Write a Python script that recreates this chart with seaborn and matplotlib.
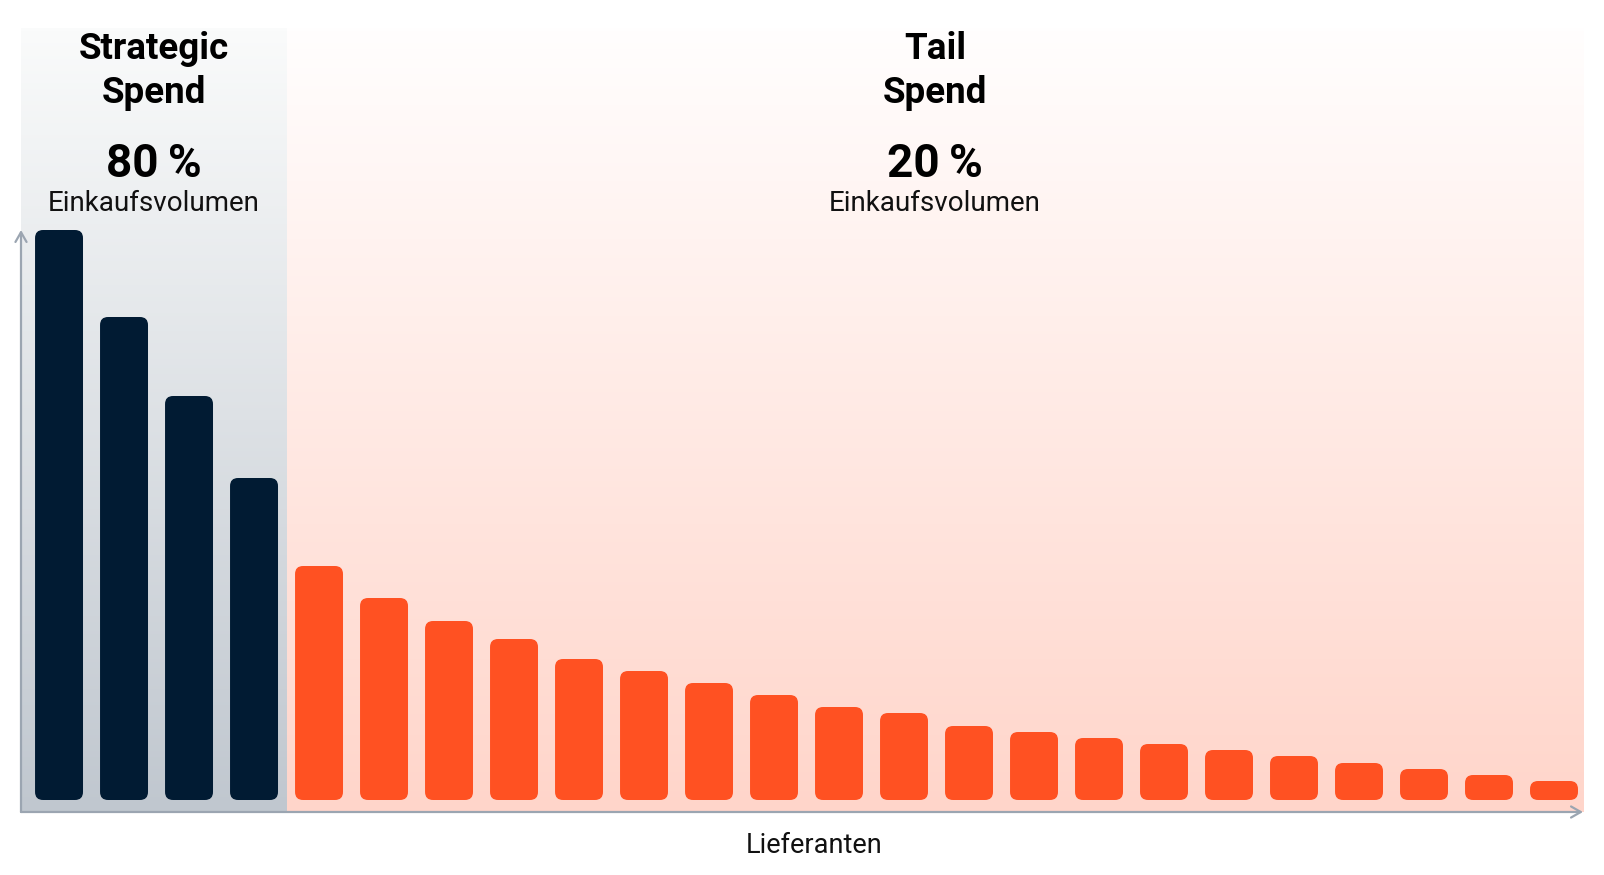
import numpy as np
import pandas as pd
import matplotlib
matplotlib.use("Agg")
import matplotlib.pyplot as plt
import seaborn as sns
from matplotlib.patches import FancyBboxPatch
from matplotlib.colors import LinearSegmentedColormap

# data: spend per supplier, sorted (arbitrary units)
strategic_spend = [57.0, 48.3, 40.4, 32.2]
tail_spend = [23.4, 20.2, 17.9, 16.1, 14.1, 12.9, 11.7, 10.5, 9.3, 8.7,
              7.4, 6.8, 6.2, 5.6, 5.0, 4.4, 3.7, 3.1, 2.5, 1.9]
group_names = [("Strategic", "Spend"), ("Tail", "Spend")]
group_shares = ["80\u2009%", "20\u2009%"]
share_label = "Einkaufsvolumen"
x_label = "Lieferanten"

NAVY = "#011b33"
ORANGE = "#ff5122"
AXIS_GREY = "#9ba5b1"

sns.set_style("white")
plt.rcParams["font.family"] = ["Roboto", "DejaVu Sans"]

values = strategic_spend + tail_spend
df = pd.DataFrame({
    "supplier": [str(i) for i in range(len(values))],
    "spend": values,
    "group": ["strategic"] * len(strategic_spend) + ["tail"] * len(tail_spend),
})

W, H = 1604, 875
fig = plt.figure(figsize=(W / 100, H / 100), dpi=100)
ax = fig.add_axes([21 / W, 1 - 812 / H, (1583 - 21) / W, (812 - 28) / H])

sns.barplot(data=df, x="supplier", y="spend", hue="group",
            palette={"strategic": NAVY, "tail": ORANGE}, saturation=1,
            dodge=False, width=0.738, legend=False, ax=ax)

n = len(values)
xmin, xmax = -0.585, n - 1 + 0.446
ymin, ymax = -1.2, 77.2
ax.set_xlim(xmin, xmax)
ax.set_ylim(ymin, ymax)
ax.set_xticks([])
ax.set_yticks([])
ax.set_xlabel("")
ax.set_ylabel("")
for s in ax.spines.values():
    s.set_visible(False)

# gradient panels behind the bars
split = len(strategic_spend) - 0.5
grad = np.linspace(0, 1, 256).reshape(-1, 1)
cm_left = LinearSegmentedColormap.from_list("l", ["#fafbfb", "#c0c7cf"])
cm_right = LinearSegmentedColormap.from_list("r", ["#fffefe", "#ffd5ca"])
ax.imshow(grad, cmap=cm_left, aspect="auto", origin="upper",
          extent=[xmin, split, ymin, ymax], zorder=0)
ax.imshow(grad, cmap=cm_right, aspect="auto", origin="upper",
          extent=[split, xmax, ymin, ymax], zorder=0)
ax.set_xlim(xmin, xmax)
ax.set_ylim(ymin, ymax)

# rounded bars
bbox = ax.get_window_extent()
px_x = bbox.width / (xmax - xmin)
px_y = bbox.height / (ymax - ymin)
r = 8 / px_x
for p in list(ax.patches):
    x0, y0 = p.get_x(), p.get_y()
    w, h = p.get_width(), p.get_height()
    fc = p.get_facecolor()
    p.remove()
    ax.add_patch(FancyBboxPatch((x0, y0), w, h,
                                boxstyle=f"round,pad=0,rounding_size={r}",
                                mutation_aspect=px_x / px_y,
                                fc=fc, ec="none", zorder=2))

# axis arrows
arrow = dict(arrowstyle="->,head_length=0.7,head_width=0.4",
             color=AXIS_GREY, lw=1.6, shrinkA=0, shrinkB=0)
ax.annotate("", xy=(xmin, max(values)), xytext=(xmin, ymin),
            arrowprops=arrow, annotation_clip=False, zorder=3)
ax.annotate("", xy=(xmax, ymin), xytext=(xmin, ymin),
            arrowprops=arrow, annotation_clip=False, zorder=3)

# headings
centers = [(21 + 287) / 2, (287 + 1583) / 2]
for cx, (line1, line2), share in zip(centers, group_names, group_shares):
    fig.text(cx / W, 1 - 59 / H, line1, ha="center", va="baseline",
             fontsize=26.5, fontweight="bold", color="black")
    fig.text(cx / W, 1 - 103 / H, line2, ha="center", va="baseline",
             fontsize=26.5, fontweight="bold", color="black")
    fig.text(cx / W, 1 - 177 / H, share, ha="center", va="baseline",
             fontsize=33, fontweight="bold", color="black")
    fig.text(cx / W, 1 - 211 / H, share_label, ha="center", va="baseline",
             fontsize=20, color="#111111")

fig.text(814 / W, 1 - 853 / H, x_label, ha="center", va="baseline",
         fontsize=19.5, color="#111111")

fig.savefig("out.png", dpi=100, facecolor="white")
